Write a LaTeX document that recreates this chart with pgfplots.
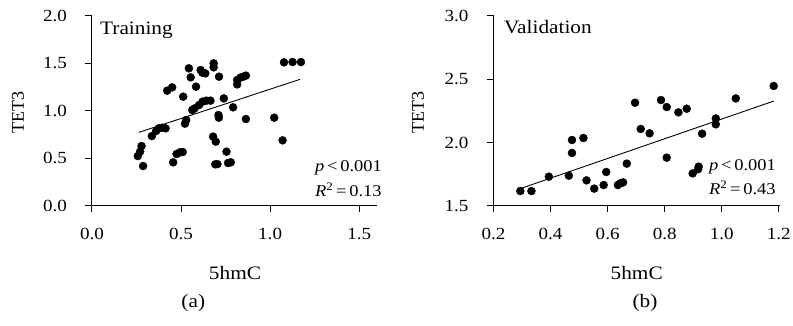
\documentclass[border=0pt]{standalone}
\usepackage{pgfplots}
\pgfplotsset{compat=1.18}
\usepackage{fontspec}
\setmainfont{Liberation Serif}[FakeStretch=1.12]
\newfontfamily\plainserif{Liberation Serif}
\begin{document}
\begin{tikzpicture}
\useasboundingbox (0pt,0pt) rectangle (793pt,326pt);
\pgfplotsset{
  panel/.style={
    scale only axis,
    anchor=south west,
    height=190.3pt,
    axis x line*=bottom,
    axis y line*=left,
    axis line style={line width=1pt},
    major tick style={line width=1pt, black},
    tick align=outside,
    major tick length=6.5pt,
    minor tick num=0,
    tick label style={font=\fontsize{17}{19}\selectfont},
    xticklabel style={yshift=-12pt},
    yticklabel style={xshift=-15pt},
    /pgf/number format/assume math mode=true,
    /pgf/number format/fixed,
    /pgf/number format/fixed zerofill,
    /pgf/number format/precision=1,
    clip=false,
  },
  dots/.style={only marks, mark=*, mark size=4pt, black},
  fit/.style={black, line width=0.9pt, no marks},
}
% Panel (a)
\begin{axis}[panel, at={(92pt,120pt)}, width=285pt,
  xmin=0, xmax=1.6, ymin=0, ymax=2.0,
  xtick={0,0.5,1.0,1.5}, ytick={0,0.5,1.0,1.5,2.0}]
\addplot[dots] coordinates {
(0.257,0.525) (0.270,0.571) (0.278,0.630) (0.287,0.420) (0.336,0.735)
(0.360,0.788) (0.375,0.816) (0.394,0.823) (0.413,0.816) (0.422,1.212)
(0.450,1.247) (0.456,0.459) (0.475,0.546) (0.494,0.564) (0.509,0.567)
(0.512,1.149) (0.522,0.865) (0.529,0.904) (0.544,1.447) (0.554,1.352)
(0.563,1.009) (0.576,1.026) (0.584,1.254) (0.601,1.061) (0.610,1.429)
(0.620,1.096) (0.620,1.401) (0.636,1.394) (0.642,1.107) (0.665,1.107)
(0.680,0.729) (0.683,1.499) (0.683,1.457) (0.695,0.676) (0.692,0.438)
(0.704,0.440) (0.710,0.956) (0.712,0.928) (0.713,1.359) (0.740,1.131)
(0.755,0.571) (0.764,0.452) (0.779,0.459) (0.792,1.037) (0.815,1.278)
(0.815,1.324) (0.833,1.349) (0.849,1.359) (0.864,1.370) (0.864,0.914)
(1.023,0.928) (1.070,0.690) (1.078,1.510) (1.126,1.513) (1.173,1.513)
};
\addplot[fit] coordinates {(0.263,0.774) (1.168,1.331)};
\end{axis}
% Panel (b)
\begin{axis}[panel, at={(493.5pt,120pt)}, width=286.5pt,
  xmin=0.2, xmax=1.204, ymin=1.5, ymax=3.0,
  xtick={0.2,0.4,0.6,0.8,1.0,1.2}, ytick={1.5,2.0,2.5,3.0}]
\addplot[dots] coordinates {
(0.294,1.618) (0.333,1.618) (0.394,1.731) (0.464,1.739) (0.475,1.918)
(0.475,2.020) (0.515,2.036) (0.526,1.702) (0.553,1.637) (0.586,1.665)
(0.595,1.768) (0.636,1.665) (0.644,1.679) (0.654,1.686) (0.667,1.834)
(0.696,2.314) (0.716,2.107) (0.747,2.073) (0.787,2.335) (0.807,2.280)
(0.807,1.881) (0.848,2.238) (0.877,2.267) (0.898,1.757) (0.917,1.790)
(0.919,1.810) (0.931,2.070) (0.979,2.190) (0.979,2.144) (1.049,2.348)
(1.182,2.446)
};
\addplot[fit] coordinates {(0.294,1.637) (1.182,2.327)};
\end{axis}
% texts
\begin{scope}[every node/.style={inner sep=0pt, font=\fontsize{19}{21}\selectfont}]
\node[anchor=base west] at (100pt,291.7pt) {Training};
\node[anchor=base west] at (504pt,292pt) {Validation};
\node[anchor=base west, font=\fontsize{16.5}{18}\selectfont] at (315pt,154.3pt) {\itshape p\upshape\,<\,0.001};
\node[anchor=base west, font=\fontsize{16.5}{18}\selectfont] at (315pt,129.3pt) {\itshape R\upshape\textsuperscript{2}\,=\,0.13};
\node[anchor=base west, font=\fontsize{16.5}{18}\selectfont] at (709pt,155.3pt) {\itshape p\upshape\,<\,0.001};
\node[anchor=base west, font=\fontsize{16.5}{18}\selectfont] at (709pt,131.7pt) {\itshape R\upshape\textsuperscript{2}\,=\,0.43};
\node[rotate=90, font=\plainserif\fontsize{18}{20}\selectfont] at (18pt,213.5pt) {TET3};
\node[rotate=90, font=\plainserif\fontsize{18}{20}\selectfont] at (418pt,213.5pt) {TET3};
\node at (235pt,52.7pt) {5hmC};
\node at (636.7pt,52.7pt) {5hmC};
\node at (193.3pt,23.5pt) {(a)};
\node at (645pt,23.5pt) {(b)};
\end{scope}
\end{tikzpicture}
\end{document}
